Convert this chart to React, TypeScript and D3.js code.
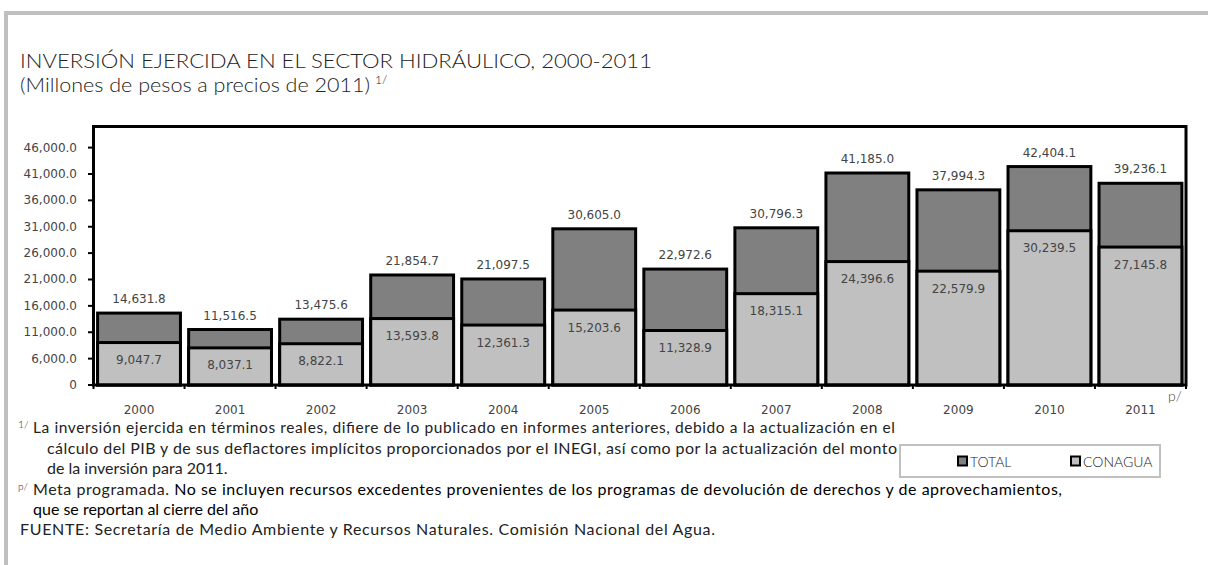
import * as React from 'react';
import * as d3 from 'd3';

const years = ['2000', '2001', '2002', '2003', '2004', '2005', '2006', '2007', '2008', '2009', '2010', '2011'];
const totalValues = [14631.8, 11516.5, 13475.6, 21854.7, 21097.5, 30605.0, 22972.6, 30796.3, 41185.0, 37994.3, 42404.1, 39236.1];
const conaguaValues = [9047.7, 8037.1, 8822.1, 13593.8, 12361.3, 15203.6, 11328.9, 18315.1, 24396.6, 22579.9, 30239.5, 27145.8];
const yTickValues = [1000, 6000, 11000, 16000, 21000, 26000, 31000, 36000, 41000, 46000];
const yTickLabels = ['0', '6,000.0', '11,000.0', '16,000.0', '21,000.0', '26,000.0', '31,000.0', '36,000.0', '41,000.0', '46,000.0'];
const seriesNames = ['TOTAL', 'CONAGUA'];

const W = 1208;
const H = 565;
const plot = { left: 93.5, right: 1186, top: 126.5, bottom: 385 };

const DARK = '#808080';
const LIGHT = '#c0c0c0';
const TEXT = '#444';
const numFont = '"DejaVu Sans", Verdana, sans-serif';
const bodyFont = 'Lato, "Noto Sans", sans-serif';

const fmt = d3.format(',.1f');

const App = () => {
  const x = d3.scaleBand<string>().domain(years).range([plot.left, plot.right]).paddingInner(0.09).paddingOuter(0.045);
  const y = d3.scaleLinear().domain([1000, 50000]).range([plot.bottom, plot.top]);
  const step = (plot.right - plot.left) / years.length;
  const bw = x.bandwidth();

  return (
    <svg width={W} height={H} style={{ position: 'absolute', left: 0, top: 0, background: '#fff' }}>
      {/* outer frame */}
      <line x1={4} x2={W} y1={13} y2={13} stroke={LIGHT} strokeWidth={4} />
      <line x1={6} x2={6} y1={11} y2={H} stroke={LIGHT} strokeWidth={4} />

      {/* title */}
      <g fontFamily={bodyFont} fontWeight={300} fill="#222">
        <text x={20} y={68} fontSize={19.5} textLength={632} lengthAdjust="spacingAndGlyphs">
          INVERSIÓN EJERCIDA EN EL SECTOR HIDRÁULICO, 2000-2011
        </text>
        <text x={20} y={92} fontSize={20.5} textLength={350} lengthAdjust="spacingAndGlyphs">
          (Millones de pesos a precios de 2011)
        </text>
        <text x={375} y={84} fontSize={12}>1/</text>
      </g>

      {/* bars */}
      {years.map((yr, i) => (
        <g key={yr}>
          <rect x={x(yr)} y={y(totalValues[i])} width={bw} height={plot.bottom - y(totalValues[i])}
            fill={DARK} stroke="#000" strokeWidth={3} />
          <rect x={x(yr)} y={y(conaguaValues[i])} width={bw} height={plot.bottom - y(conaguaValues[i])}
            fill={LIGHT} stroke="#000" strokeWidth={3} />
          <text x={(x(yr) as number) + bw / 2} y={y(totalValues[i]) - 14} textAnchor="middle" dominantBaseline="central"
            fontFamily={numFont} fontSize={12} fill={TEXT}>{fmt(totalValues[i])}</text>
          <text x={(x(yr) as number) + bw / 2} y={y(conaguaValues[i]) + 17.5} textAnchor="middle" dominantBaseline="central"
            fontFamily={numFont} fontSize={12} fill={TEXT}>{fmt(conaguaValues[i])}</text>
        </g>
      ))}

      {/* plot frame */}
      <rect x={plot.left} y={plot.top} width={plot.right - plot.left} height={plot.bottom - plot.top}
        fill="none" stroke="#000" strokeWidth={3} />

      {/* y axis */}
      {yTickValues.map((v, i) => (
        <g key={v}>
          <line x1={plot.left - 5.5} x2={plot.left} y1={y(v)} y2={y(v)} stroke="#000" strokeWidth={2} />
          <text x={77} y={y(v)} textAnchor="end" dominantBaseline="central" fontFamily={numFont} fontSize={12} fill={TEXT}>
            {yTickLabels[i]}
          </text>
        </g>
      ))}

      {/* x axis */}
      {d3.range(years.length + 1).map((i) => (
        <line key={i} x1={plot.left + i * step} x2={plot.left + i * step} y1={plot.bottom} y2={plot.bottom + 4}
          stroke="#000" strokeWidth={2} />
      ))}
      {years.map((yr) => (
        <text key={yr} x={(x(yr) as number) + bw / 2} y={409.5} textAnchor="middle" dominantBaseline="central"
          fontFamily={numFont} fontSize={12} fill={TEXT}>{yr}</text>
      ))}
      <text x={1168} y={401} fontFamily={bodyFont} fontWeight={300} fontSize={14} fill={TEXT}>p/</text>

      {/* legend */}
      <rect x={900} y={445} width={260} height={32} fill="#fff" stroke={LIGHT} strokeWidth={2} />
      {seriesNames.map((name, i) => (
        <g key={name} transform={`translate(${958 + i * 113}, 461)`}>
          <rect x={0} y={-4.5} width={9} height={9} fill={i === 0 ? DARK : LIGHT} stroke="#000" strokeWidth={2} />
          <text x={12} y={0} dominantBaseline="central" fontFamily={bodyFont} fontWeight={300} fontSize={14} fill="#222">{name}</text>
        </g>
      ))}

      {/* notes */}
      <g fontFamily={bodyFont} fill="#222">
        <text x={18} y={428} fontSize={10.5} fontWeight={300}>1/</text>
        <text x={33} y={433} fontSize={15.5} textLength={862} lengthAdjust="spacing">
          La inversión ejercida en términos reales, difiere de lo publicado en informes anteriores, debido a la actualización en el
        </text>
        <text x={47} y={453.5} fontSize={16} textLength={850} lengthAdjust="spacing">
          cálculo del PIB y de sus deflactores implícitos proporcionados por el INEGI, así como por la actualización del monto
        </text>
        <text x={47} y={473.5} fontSize={16}>de la inversión para 2011.</text>
        <text x={18} y={490} fontSize={10} fontWeight={300}>p/</text>
        <text x={33} y={495} fontSize={16} textLength={1029} lengthAdjust="spacing">
          Meta programada. <tspan fill="#000">No se incluyen recursos excedentes provenientes de los programas de devolución de derechos y de aprovechamientos,</tspan>
        </text>
        <text x={33} y={515} fontSize={16} fill="#000">que se reportan al cierre del año</text>
        <text x={20} y={535} fontSize={16} textLength={695} lengthAdjust="spacing">
          FUENTE: Secretaría de Medio Ambiente y Recursos Naturales. Comisión Nacional del Agua.
        </text>
      </g>
    </svg>
  );
};

export default App;
